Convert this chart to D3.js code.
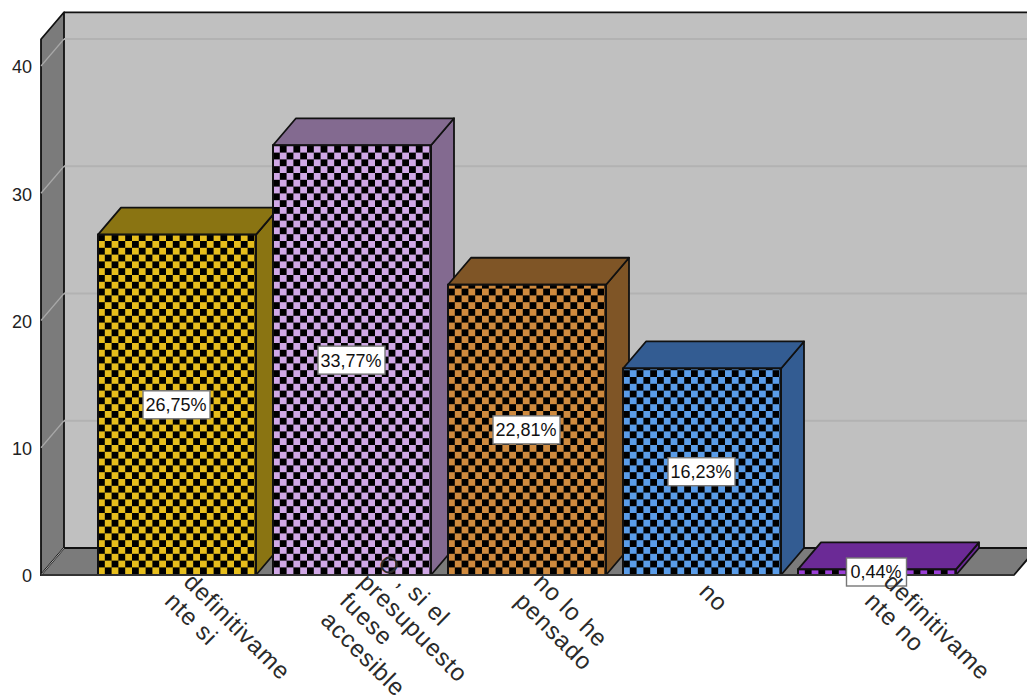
<!DOCTYPE html>
<html><head><meta charset="utf-8">
<script src="https://cdn.jsdelivr.net/npm/d3@7"></script>
<style>html,body{margin:0;padding:0;background:#fff;overflow:hidden}svg{display:block}</style>
</head><body><div id="c"></div>
<script>
const categories=["definitivamente si","o, si el presupuesto fuese accesible","no lo he pensado","no","definitivamente no"];
const labelLines=[["definitivame","nte si"],["O , si el","presupuesto","fuese","accesible"],["no lo he","pensado"],["no"],["definitivame","nte no"]];
const values=[26.75,33.77,22.81,16.23,0.44];
const percentLabels=["26,75%","33,77%","22,81%","16,23%","0,44%"];
const frontColors=["#e6bd1c","#d0a8e6","#cf8a3e","#5a9ce8","#9a3fd6"];
const topColors=["#8a7412","#836a90","#7f5526","#335c92","#6b2a96"];
const yTicks=[0,10,20,30,40];
const W=1027,H=695,dx=23,dy=-27;
const svg=d3.select("#c").append("svg").attr("width",W).attr("height",H);
const y=d3.scaleLinear().domain([0,40]).range([575,66]);
const x=d3.scaleBand().domain(categories).range([89.5,964.5]).paddingInner(17/175).paddingOuter(8.5/175);
const defs=svg.append("defs");
frontColors.forEach((c,i)=>{
 const p=defs.append("pattern").attr("id","chk"+i).attr("patternUnits","userSpaceOnUse").attr("width",13.6).attr("height",13.6)
  .attr("x",x(categories[i])).attr("y",3);
 p.append("rect").attr("width",13.6).attr("height",13.6).attr("fill",c);
 p.append("rect").attr("width",6.8).attr("height",6.8).attr("fill","#000");
 p.append("rect").attr("x",6.8).attr("y",6.8).attr("width",6.8).attr("height",6.8).attr("fill","#000");
});
const poly=(pts,fill,sw=1.8)=>svg.append("polygon").attr("points",pts.map(p=>p.join(",")).join(" ")).attr("fill",fill).attr("stroke","#111").attr("stroke-width",sw).attr("stroke-linejoin","round");
const xL=41,xR=1014,yT=y(42.1),y0=y(0);
svg.append("rect").attr("x",xL+dx).attr("y",yT+dy).attr("width",W).attr("height",y0-yT).attr("fill","#c0c0c0");
svg.append("line").attr("x1",xL+dx).attr("x2",W).attr("y1",yT+dy).attr("y2",yT+dy).attr("stroke","#111").attr("stroke-width",1.8);
poly([[xL,yT],[xL+dx,yT+dy],[xL+dx,y0+dy],[xL,y0]],"#7b7b7b");
poly([[xL,y0],[xL+dx,y0+dy],[xR+dx,y0+dy],[xR,y0]],"#7b7b7b");
yTicks.slice(1).forEach(t=>{
 svg.append("line").attr("x1",xL+dx).attr("x2",W).attr("y1",y(t)+dy).attr("y2",y(t)+dy).attr("stroke","#b2b2b2").attr("stroke-width",2);
 svg.append("line").attr("x1",xL).attr("x2",xL+dx).attr("y1",y(t)).attr("y2",y(t)+dy).attr("stroke","#a8a8a8").attr("stroke-width",1.2);
});
svg.append("line").attr("x1",xL).attr("x2",xL+dx).attr("y1",y0).attr("y2",y0+dy).attr("stroke","#a8a8a8").attr("stroke-width",1);
categories.forEach((c,i)=>{
 const a=x(c),b=a+x.bandwidth(),t=y(values[i]);
 poly([[b,t],[b+dx,t+dy],[b+dx,y0+dy],[b,y0]],topColors[i]);
 poly([[a,t],[a+dx,t+dy],[b+dx,t+dy],[b,t]],topColors[i]);
 svg.append("rect").attr("x",a).attr("y",t).attr("width",x.bandwidth()).attr("height",y0-t).attr("fill",`url(#chk${i})`).attr("stroke","#111").attr("stroke-width",2);
});
svg.append("line").attr("x1",xL).attr("x2",xR).attr("y1",y0).attr("y2",y0).attr("stroke","#333").attr("stroke-width",1.8);
const font="'Liberation Sans',Arial,sans-serif";
const axis=d3.axisLeft(y).tickValues(yTicks).tickSize(0).tickPadding(0);
const ag=svg.append("g").attr("transform",`translate(${xL-9},1)`).call(axis);
ag.select(".domain").remove();
ag.selectAll("text").attr("font-family",font).attr("font-size",18).attr("fill","#222");
categories.forEach((c,i)=>{
 const cx=x(c)+x.bandwidth()/2, cy=Math.min((y(values[i])+y0)/2,572);
 const bw=i==4?60:67,bh=28;
 svg.append("rect").attr("x",cx-bw/2-0.5).attr("y",cy-bh/2).attr("width",bw).attr("height",bh).attr("fill","#fff").attr("stroke","#777").attr("stroke-width",1.4);
 svg.append("text").attr("x",cx-1).attr("y",cy).attr("dy","0.36em").attr("text-anchor","middle").attr("font-family",font).attr("font-size",18).attr("fill","#111").text(percentLabels[i]);
});
categories.forEach((c,i)=>{
 const cx=x(c)+x.bandwidth()/2;
 const n=labelLines[i].length;
 const g=svg.append("g").attr("transform",`translate(${cx+2},587) rotate(45)`);
 labelLines[i].forEach((s,k)=>{
  g.append("text").attr("x",0).attr("y",(k-(n-1)/2)*27).attr("dy","0.35em")
   .attr("font-family",font).attr("font-size",24).attr("letter-spacing",0.9).attr("fill","#2a2a2a").text(s);
 });
});
</script></body></html>
